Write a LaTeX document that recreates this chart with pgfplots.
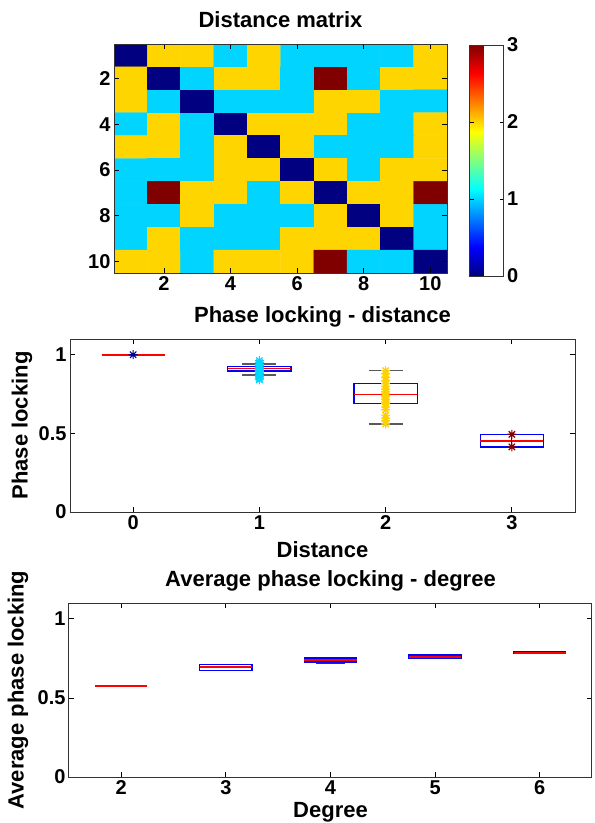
\documentclass[border=0pt]{standalone}
\usepackage{fontspec}
\setmainfont{Liberation Sans}
\usepackage{pgfplots}
\pgfplotsset{compat=1.18}
\usepgfplotslibrary{statistics}

\definecolor{jnavy}{RGB}{0,0,140}
\definecolor{jcyan}{RGB}{0,215,255}
\definecolor{jyellow}{RGB}{255,208,0}
\definecolor{jdred}{RGB}{128,0,0}

% matlab style '*' marker (+ and x on top of each other)
\pgfdeclareplotmark{mstar}{%
  \pgfpathmoveto{\pgfpoint{-\pgfplotmarksize}{0pt}}\pgfpathlineto{\pgfpoint{\pgfplotmarksize}{0pt}}%
  \pgfpathmoveto{\pgfpoint{0pt}{-\pgfplotmarksize}}\pgfpathlineto{\pgfpoint{0pt}{\pgfplotmarksize}}%
  \pgfpathmoveto{\pgfpoint{-.707\pgfplotmarksize}{-.707\pgfplotmarksize}}\pgfpathlineto{\pgfpoint{.707\pgfplotmarksize}{.707\pgfplotmarksize}}%
  \pgfpathmoveto{\pgfpoint{-.707\pgfplotmarksize}{.707\pgfplotmarksize}}\pgfpathlineto{\pgfpoint{.707\pgfplotmarksize}{-.707\pgfplotmarksize}}%
  \pgfusepathqstroke}

\pgfplotsset{
  mlab/.style={
    scale only axis,
    anchor=north west,
    tick align=inside,
    tick pos=both,
    major tick length=5pt,
    axis line style={black!80, line width=1pt},
    every tick/.style={black, line width=0.8pt},
    ticklabel style={font=\bfseries\fontsize{20}{24}\selectfont},
    /pgf/number format/assume math mode=true,
    label style={font=\bfseries\fontsize{22}{26}\selectfont},
    title style={font=\bfseries\fontsize{22}{26}\selectfont,
      at={(axis description cs:0.5,1)}, anchor=base, yshift=11pt},
    boxplot/draw direction=y,
    boxplot/every box/.style={draw=blue, line width=1.3pt},
    boxplot/every median/.style={draw=red, line width=1.6pt},
    boxplot/every whisker/.style={draw=black!65, line width=1.6pt},
    boxplot/box extend=0.5,
    boxplot/whisker extend=0.27,
  },
  nowhisk/.style={boxplot/every whisker/.style={draw=none}},
  nobox/.style={boxplot/every box/.style={draw=none}},
  pts/.style={line width=1.2pt, mark=mstar, mark size=4.5pt},
}

\begin{document}
\begin{tikzpicture}

% distance matrix
\begin{axis}[mlab, at={(114pt,-44pt)}, width=333pt, height=229pt,
  title={Distance matrix},
  xmin=0.5, xmax=10.5, ymin=0.5, ymax=10.5, y dir=reverse,
  enlargelimits=false, axis on top,
  xtick={2,4,6,8,10}, ytick={2,4,6,8,10},
  colormap/jet, point meta min=0, point meta max=3,
  colorbar,
  colorbar style={
    at={(parent axis.north east)}, anchor=north west,
    xshift=14pt, yshift=-1pt,
    scale only axis, width=34pt, height=231pt,
    ytick={0,1,2,3}, yticklabel pos=right, ytick pos=both,
    tick align=inside, major tick length=4pt,
    axis line style={black!80, line width=1pt},
    every tick/.style={black, line width=0.8pt},
    yticklabel style={font=\bfseries\fontsize{20}{24}\selectfont},
    /pgf/number format/assume math mode=true,
  }]
\addplot[matrix plot*, mesh/cols=10, point meta=explicit] coordinates {
(1,1)[0] (2,1)[2] (3,1)[2] (4,1)[1] (5,1)[2] (6,1)[1] (7,1)[1] (8,1)[1] (9,1)[1] (10,1)[2]

(1,2)[2] (2,2)[0] (3,2)[1] (4,2)[2] (5,2)[2] (6,2)[1] (7,2)[3] (8,2)[1] (9,2)[2] (10,2)[2]

(1,3)[2] (2,3)[1] (3,3)[0] (4,3)[1] (5,3)[1] (6,3)[1] (7,3)[2] (8,3)[2] (9,3)[1] (10,3)[1]

(1,4)[1] (2,4)[2] (3,4)[1] (4,4)[0] (5,4)[2] (6,4)[2] (7,4)[2] (8,4)[1] (9,4)[1] (10,4)[2]

(1,5)[2] (2,5)[2] (3,5)[1] (4,5)[2] (5,5)[0] (6,5)[2] (7,5)[1] (8,5)[1] (9,5)[1] (10,5)[2]

(1,6)[1] (2,6)[1] (3,6)[1] (4,6)[2] (5,6)[2] (6,6)[0] (7,6)[2] (8,6)[1] (9,6)[2] (10,6)[2]

(1,7)[1] (2,7)[3] (3,7)[2] (4,7)[2] (5,7)[1] (6,7)[2] (7,7)[0] (8,7)[2] (9,7)[2] (10,7)[3]

(1,8)[1] (2,8)[1] (3,8)[2] (4,8)[1] (5,8)[1] (6,8)[1] (7,8)[2] (8,8)[0] (9,8)[2] (10,8)[1]

(1,9)[1] (2,9)[2] (3,9)[1] (4,9)[1] (5,9)[1] (6,9)[2] (7,9)[2] (8,9)[2] (9,9)[0] (10,9)[1]

(1,10)[2] (2,10)[2] (3,10)[1] (4,10)[2] (5,10)[2] (6,10)[2] (7,10)[3] (8,10)[1] (9,10)[1] (10,10)[0]
};
\end{axis}

% phase locking vs distance
\begin{axis}[mlab, at={(70pt,-339pt)}, width=505pt, height=173pt,
  title={Phase locking - distance},
  xlabel={Distance}, ylabel={Phase locking},
  xlabel style={at={(axis description cs:0.5,0)}, anchor=base, yshift=-45pt},
  ylabel style={at={(axis description cs:-0.095,0.5)}, anchor=center},
  xmin=-0.5, xmax=3.5, ymin=0, ymax=1.1,
  xtick={0,1,2,3}, ytick={0,0.5,1}]
\addplot[nowhisk, nobox, boxplot prepared={draw position=0, median=1, lower quartile=1, upper quartile=1,
  lower whisker=1, upper whisker=1}] coordinates {};
\addplot[boxplot prepared={draw position=1, median=0.912, lower quartile=0.897, upper quartile=0.926,
  lower whisker=0.870, upper whisker=0.941}] coordinates {};
\addplot[boxplot prepared={draw position=2, median=0.746, lower quartile=0.689, upper quartile=0.815,
  lower whisker=0.559, upper whisker=0.899}] coordinates {};
\addplot[nowhisk, boxplot prepared={draw position=3, median=0.452, lower quartile=0.414, upper quartile=0.494,
  lower whisker=0.414, upper whisker=0.494}] coordinates {};

\addplot[jnavy, pts] coordinates {(0,1)};
\addplot[jcyan, pts] coordinates {
  (1,0.840) (1,0.850) (1,0.860) (1,0.870) (1,0.880) (1,0.890) (1,0.895) (1,0.900)
  (1,0.905) (1,0.910) (1,0.915) (1,0.920) (1,0.930) (1,0.940) (1,0.950) (1,0.962)};
\addplot[jyellow, pts] coordinates {
  (2,0.559) (2,0.580) (2,0.595) (2,0.616) (2,0.650) (2,0.668) (2,0.690) (2,0.700)
  (2,0.715) (2,0.731) (2,0.740) (2,0.752) (2,0.765) (2,0.780) (2,0.800) (2,0.815)
  (2,0.835) (2,0.857) (2,0.880) (2,0.899)};
\addplot[jdred, pts] coordinates {(3,0.414) (3,0.494)};
\end{axis}

% average phase locking vs degree
\begin{axis}[mlab, at={(69pt,-603pt)}, width=523pt, height=174pt,
  title={Average phase locking - degree},
  xlabel={Degree}, ylabel={Average phase locking},
  xlabel style={at={(axis description cs:0.5,0)}, anchor=base, yshift=-40pt},
  ylabel style={at={(axis description cs:-0.0975,0.5)}, anchor=center},
  xmin=1.5, xmax=6.5, ymin=0, ymax=1.1,
  xtick={2,3,4,5,6}, ytick={0,0.5,1}]
\addplot[nowhisk, nobox, boxplot prepared={draw position=2, median=0.577, lower quartile=0.577, upper quartile=0.577,
  lower whisker=0.577, upper whisker=0.577}] coordinates {};
\addplot[nowhisk, boxplot prepared={draw position=3, median=0.697, lower quartile=0.674, upper quartile=0.713,
  lower whisker=0.674, upper whisker=0.713}] coordinates {};
\addplot[boxplot prepared={draw position=4, median=0.740, lower quartile=0.728, upper quartile=0.753,
  lower whisker=0.721, upper whisker=0.753}, boxplot/every whisker/.style={draw=black!80, line width=1.6pt}] coordinates {};
\addplot[nowhisk, boxplot prepared={draw position=5, median=0.760, lower quartile=0.749, upper quartile=0.772,
  lower whisker=0.749, upper whisker=0.772}] coordinates {};
\addplot[nowhisk, boxplot prepared={draw position=6, median=0.784, lower quartile=0.782, upper quartile=0.792,
  lower whisker=0.782, upper whisker=0.792}] coordinates {};
\end{axis}

\pgfresetboundingbox
\path[use as bounding box] (0,0) rectangle (595pt,-823pt);
\end{tikzpicture}
\end{document}
